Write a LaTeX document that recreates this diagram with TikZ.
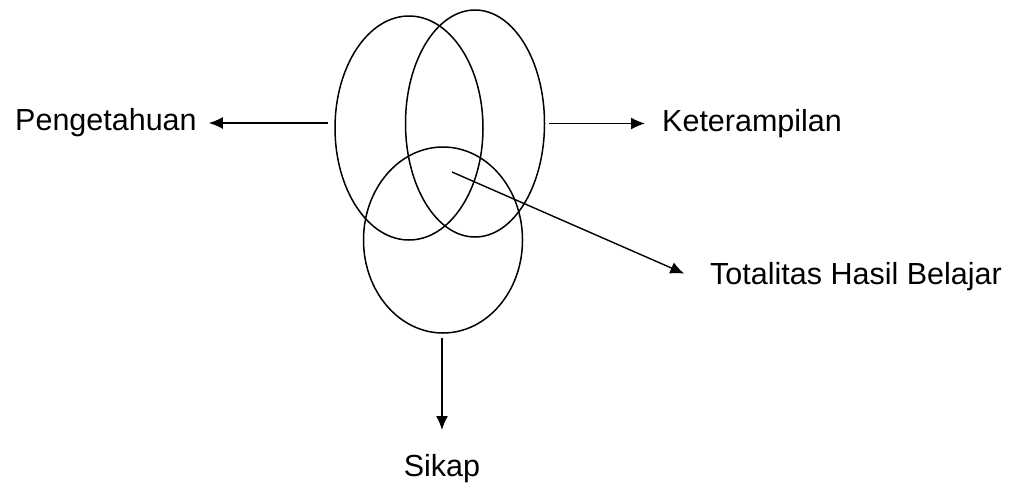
\documentclass[tikz,border=0pt]{standalone}
\usepackage{fontspec}
\setmainfont{Liberation Sans}
\usetikzlibrary{positioning, arrows.meta, shapes.geometric, calc}

\begin{document}
\begin{tikzpicture}[x=1pt, y=-1pt,
    oval/.style={draw, ellipse, line width=1.5pt, inner sep=0pt},
    teks/.style={inner sep=0pt, font=\fontsize{30.5}{36}\selectfont},
    panah/.style={-{Latex[length=14pt, width=12pt]}, line width=1.4pt}]
  \useasboundingbox (0,0) rectangle (1016,485);
  % three overlapping domains
  \foreach \nm/\cx/\cy/\rx/\ry in {%
      kiri/409/128/74/112, kanan/475/123.5/69.5/113.5, bawah/443/240/79.5/93%
  }{
    \node[oval, minimum width=2*\rx, minimum height=2*\ry] (\nm) at (\cx,\cy) {};
  }
  \coordinate (pusat) at (452,172);
  \node[teks, anchor=west] (peng) at (15,123) {Pengetahuan};
  \node[teks, anchor=west] (ket) at (662,123.5) {Keterampilan};
  \node[teks, anchor=west] (tot) at (710,277) {Totalitas Hasil Belajar};
  \node[teks, anchor=north] (sikap) at (442,454) {Sikap};
  % arrows
  \draw[panah, shorten >=12pt] ([xshift=-6pt]kiri.west |- peng.east) -- (peng.east);
  \draw[panah, shorten >=17pt] ([xshift=4pt]kanan.east) -- (ket.west);
  \draw[panah, shorten >=28pt] (pusat) -- (tot.base west);
  \draw[panah, shorten <=4pt, shorten >=24pt] (bawah.south -| sikap.north) -- (sikap.north);
\end{tikzpicture}
\end{document}
